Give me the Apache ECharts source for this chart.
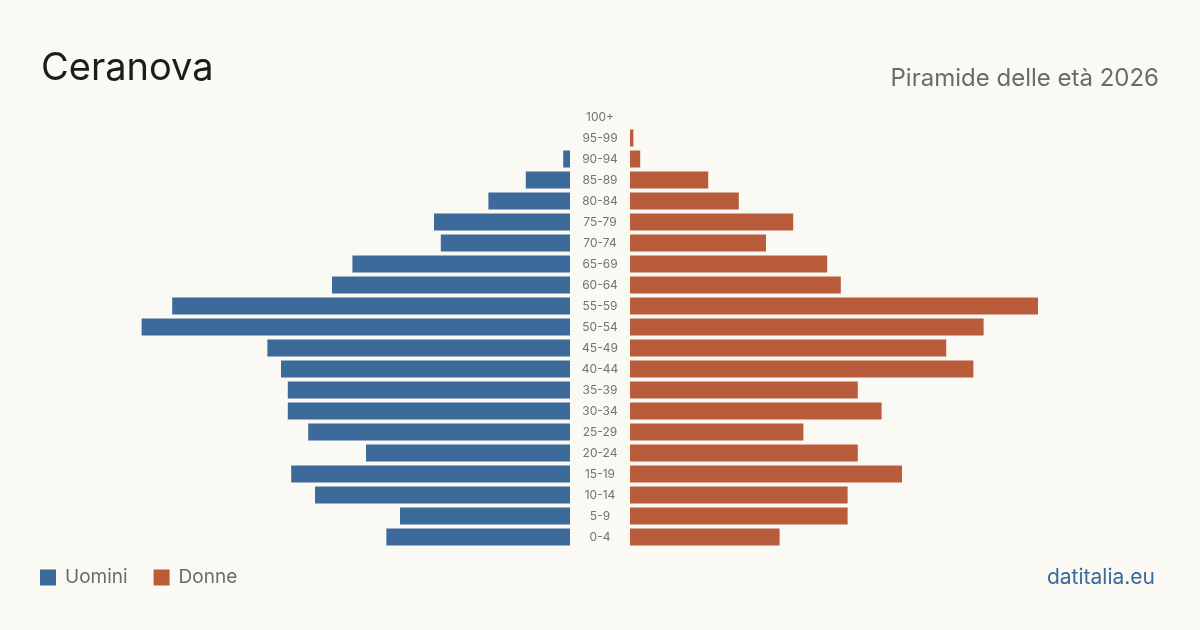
<!DOCTYPE html>
<html>
<head>
<meta charset="utf-8">
<script src="https://cdn.jsdelivr.net/npm/echarts@6/dist/echarts.min.js"></script>
<style>
  html, body { margin: 0; padding: 0; background: #faf9f4; }
  #chart { width: 1200px; height: 630px; }
</style>
</head>
<body>
<div id="chart"></div>
<script>
// classi di età, dal basso verso l'alto
const ageGroups = ['0-4', '5-9', '10-14', '15-19', '20-24', '25-29', '30-34', '35-39', '40-44', '45-49',
  '50-54', '55-59', '60-64', '65-69', '70-74', '75-79', '80-84', '85-89', '90-94', '95-99', '100+']
const uomini = [54, 50, 75, 82, 60, 77, 83, 83, 85, 89, 126, 117, 70, 64, 38, 40, 24, 13, 2, 0, 0]
const donne = [44, 64, 64, 80, 67, 51, 74, 67, 101, 93, 104, 120, 62, 58, 40, 48, 32, 23, 3, 1, 0]

const BLUE = '#3b6a9b'
const RED = '#b95c3c'
const font = 'Inter, "Noto Sans", sans-serif'

const chart = echarts.init(document.getElementById('chart'))

chart.setOption({
  backgroundColor: '#faf9f4',
  animation: false,
  textStyle: { fontFamily: font },
  title: [
    {
      text: 'Ceranova', left: 36, top: 45,
      textStyle: { fontSize: 38, fontWeight: 'normal', color: '#1c1c1c', fontFamily: font }
    },
    {
      text: 'Piramide delle età 2026', right: 36, top: 62,
      textStyle: { fontSize: 24, fontWeight: 'normal', color: '#6b6b6b', fontFamily: font }
    },
    {
      text: 'datitalia.eu', right: 40, top: 562,
      textStyle: { fontSize: 21, fontWeight: 'normal', color: '#3b6a9b', fontFamily: font }
    }
  ],
  legend: {
    left: 40, top: 568, padding: 0,
    itemWidth: 16, itemHeight: 16, itemGap: 26,
    icon: 'rect',
    textStyle: { fontSize: 19, color: '#6b6b6b', padding: [0, 0, 0, 4], fontFamily: font },
    data: ['Uomini', 'Donne']
  },
  grid: [
    { left: 60, width: 510, top: 106.5, height: 441 },
    { left: 630, width: 510, top: 106.5, height: 441 }
  ],
  xAxis: [
    { gridIndex: 0, type: 'value', min: 0, max: 150, inverse: true, show: false },
    { gridIndex: 1, type: 'value', min: 0, max: 150, show: false }
  ],
  yAxis: [
    {
      gridIndex: 0, type: 'category', data: ageGroups, position: 'right',
      axisLine: { show: false }, axisTick: { show: false }, axisLabel: { show: false }
    },
    {
      gridIndex: 1, type: 'category', data: ageGroups, position: 'left',
      axisLine: { show: false }, axisTick: { show: false },
      axisLabel: { margin: 30, align: 'center', fontSize: 12, color: '#737373', fontFamily: font }
    }
  ],
  series: [
    {
      name: 'Uomini', type: 'bar', xAxisIndex: 0, yAxisIndex: 0,
      data: uomini, barWidth: 17, itemStyle: { color: BLUE }
    },
    {
      name: 'Donne', type: 'bar', xAxisIndex: 1, yAxisIndex: 1,
      data: donne, barWidth: 17, itemStyle: { color: RED }
    }
  ]
})
</script>
</body>
</html>
